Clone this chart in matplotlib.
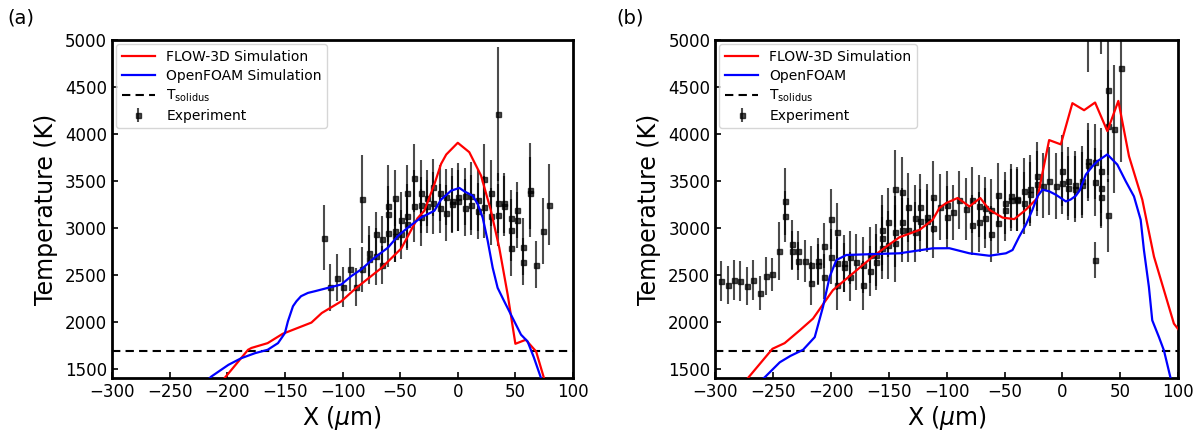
import matplotlib
matplotlib.use("Agg")
import matplotlib.pyplot as plt

plt.rcParams['font.family'] = ['DejaVu Sans']

# ---------------- Panel (a) ----------------
flow_a_x = [-207, -182, -179, -165, -152, -127, -118, -101, -89, -66, -49, -35, -29, -20.2, -14.5, -10, 0, 10, 20.2, 28.8, 36, 43.3, 50, 59, 68, 75.5]
flow_a_t = [1330, 1700, 1720, 1771, 1870, 1990, 2092, 2217, 2350, 2574, 2780, 3100, 3181, 3467, 3680, 3780, 3905, 3805, 3556, 3181, 2788, 2289, 1764, 1807, 1682, 1370]

foam_a_x = [-216, -214, -199, -188, -176, -165, -156, -150, -147.4, -143, -140, -136, -130, -124, -118, -112.6, -101, -92.4, -83.7, -72.2, -60.6, -51.9, -43.3, -31.8, -20.3, -14.5, -5.8, 1.4, 5.7, 13, 17.3, 21.6, 26, 30.3, 34.6, 40.3, 44.7, 54.9, 60.6, 66, 72.5]
foam_a_t = [1390, 1414, 1540, 1610, 1664, 1700, 1771, 1878, 2003, 2164, 2217, 2271, 2306, 2324, 2343, 2360, 2396, 2485, 2557, 2681, 2788, 2913, 3002, 3109, 3181, 3300, 3395, 3424, 3388, 3341, 3253, 3109, 2860, 2574, 2360, 2217, 2110, 1861, 1789, 1620, 1390]

exp_a_x = [-116, -111, -105, -99.4, -93.8, -88.5, -82.9, -82.9, -77.0, -77.0,
           -71.0, -71.0, -66.0, -66.0, -60.5, -60.5, -60.5, -54.8, -54.8, -54.8,
           -49.4, -49.4, -43.8, -43.8, -43.8, -38.2, -38.2, -32.3, -32.3, -32.3,
           -26.8, -26.8, -21.1, -21.1, -15.8, -15.8, -10.4, -10.4, -4.9, -4.9,
           0.6, 0.6, 6.2, 6.2, 11.9, 11.9, 17.5, 17.5, 23.2, 23.2,
           28.8, 28.8, 34.5, 34.5, 34.5, 40.1, 40.1, 45.8, 45.8, 45.8,
           51.5, 51.5, 57.0, 57.0, 62.7, 62.7, 68.3, 74.0, 79.5]
exp_a_t = [2896, 2365, 2470, 2368, 2557, 2370, 3306, 2557, 2734, 2665,
           2931, 2695, 2875, 2603, 3230, 3145, 2940, 3320, 2965, 2910,
           3083, 2930, 3372, 3125, 3040, 3530, 3230, 3370, 3245, 3110,
           3316, 3227, 3430, 3262, 3370, 3209, 3325, 3155, 3290, 3252,
           3325, 3290, 3333, 3215, 3340, 3244, 3298, 3180, 3518, 3216,
           3369, 3120, 4211, 3262, 3138, 3262, 3227, 3102, 2978, 2783,
           3191, 3085, 2800, 2640, 3404, 3369, 2605, 2967, 3244]
exp_a_err = [350, 250, 250, 210, 230, 200, 470, 240, 280, 260,
             240, 300, 250, 200, 440, 300, 360, 300, 330, 280,
             300, 260, 300, 340, 280, 360, 380, 350, 300, 300,
             300, 280, 300, 330, 300, 260, 300, 300, 350, 300,
             360, 320, 300, 300, 360, 320, 330, 300, 370, 330,
             350, 300, 710, 320, 330, 320, 320, 300, 330, 300,
             300, 300, 300, 250, 500, 380, 250, 350, 430]

# ---------------- Panel (b) ----------------
flow_b_x = [-273, -250.5, -240, -227, -215.5, -198.3, -183.9, -163.8, -152.2, -140.8, -123.5, -112.1, -106.3, -100.5, -90.5, -80.4, -71, -63.2, -51.7, -41.6, -31.6, -21.6, -11.5, -1.4, 8.6, 18.7, 28.2, 38.8, 48.3, 57.5, 69, 79.1, 96.3, 100]
flow_b_t = [1380, 1711, 1771, 1907, 2032, 2335, 2485, 2692, 2799, 2899, 2977, 3085, 3210, 3263, 3317, 3227, 3317, 3192, 3108, 3092, 3192, 3317, 3934, 3888, 4327, 4252, 4334, 4030, 4351, 3762, 3299, 2692, 1979, 1920]

foam_b_x = [-259, -257.2, -244.2, -235, -224.1, -214, -206.9, -201.1, -195.3, -186.7, -169.5, -140.8, -112.1, -97.7, -80.4, -63.2, -48.8, -43.1, -37.3, -31.6, -25.9, -21.6, -17.2, -11.5, -5.7, 2.9, 7, 11.6, 15, 20.2, 25.9, 30.2, 38.8, 47.4, 54.7, 61.8, 67.6, 70.4, 74.7, 77.6, 83.4, 87.7, 93.6]
foam_b_t = [1390, 1407, 1567, 1635, 1700, 1835, 2156, 2478, 2656, 2710, 2717, 2728, 2781, 2782, 2728, 2702, 2728, 2763, 2906, 3031, 3192, 3334, 3406, 3388, 3352, 3281, 3300, 3341, 3400, 3566, 3655, 3709, 3781, 3673, 3495, 3334, 3085, 2763, 2370, 2014, 1835, 1693, 1390]

exp_b_x = [-295.0, -289.3, -283.9, -278.4, -272.7, -267.2, -261.5, -255.7, -250.5, -244.8,
           -239.5, -239.5, -233.6, -233.6, -228.4, -228.4, -222.7, -217.0, -217.0, -211.2,
           -211.2, -206.0, -206.0, -200.3, -200.3, -194.8, -194.8, -194.8, -189.0, -189.0,
           -183.9, -183.9, -178.1, -172.4, -172.4, -166.6, -166.6, -160.9, -160.9, -156.0,
           -156.0, -156.0, -150.3, -150.3, -144.5, -144.5, -144.5, -138.8, -138.8, -138.8,
           -133.6, -133.6, -127.8, -127.8, -122.9, -122.9, -117.2, -117.2, -111.5, -111.5,
           -105.7, -100.0, -100.0, -94.8, -89.0, -83.3, -78.1, -78.1, -72.4, -72.4,
           -66.6, -66.6, -61.5, -61.5, -55.7, -55.7, -50.0, -50.0, -44.2, -44.2,
           -39.0, -39.0, -33.3, -33.3, -28.1, -28.1, -22.4, -22.4, -16.6, -11.5,
           -5.7, 0.0, 0.0, 5.2, 5.2, 10.9, 10.9, 16.7, 16.7, 22.4,
           22.4, 22.4, 28.2, 28.2, 28.2, 33.4, 33.4, 33.4, 33.4, 39.1,
           39.1, 39.1, 44.6, 50.3]
exp_b_t = [2431, 2389, 2442, 2431, 2381, 2442, 2306, 2486, 2506, 2750,
           3281, 3120, 2826, 2755, 2756, 2646, 2646, 2608, 2410, 2646,
           2608, 2808, 2478, 3092, 2692, 2959, 2621, 2389, 2621, 2578,
           2685, 2478, 2638, 2603, 2389, 2710, 2539, 2710, 2638, 2977,
           2888, 2781, 3056, 2817, 3413, 2959, 2835, 3377, 3066, 2977,
           3216, 2977, 3102, 2959, 3216, 3077, 3113, 3077, 3327, 2996,
           3220, 3245, 3113, 3163, 3299, 3199, 3299, 3031, 3227, 3066,
           3209, 3102, 3192, 2931, 3352, 3049, 3263, 3184, 3342, 3291,
           3306, 3291, 3388, 3263, 3413, 3363, 3548, 3470, 3449, 3495,
           3441, 3609, 3477, 3495, 3424, 3459, 3413, 3502, 3459, 5400,
           3716, 3666, 3702, 3484, 2656, 5600, 3609, 3424, 3323, 4466,
           4084, 3131, 4055, 4698]
exp_b_err = [215, 205, 215, 210, 200, 215, 180, 200, 175, 310,
             360, 270, 260, 210, 210, 200, 220, 200, 230, 240,
             220, 240, 240, 320, 290, 300, 280, 260, 300, 260,
             280, 260, 300, 300, 260, 300, 270, 330, 300, 370,
             350, 330, 370, 360, 410, 380, 410, 380, 360, 340,
             370, 340, 350, 320, 360, 340, 350, 330, 380, 320,
             350, 360, 330, 290, 310, 330, 350, 320, 330, 320,
             330, 320, 330, 300, 340, 320, 330, 320, 340, 330,
             340, 330, 350, 330, 360, 340, 370, 350, 350, 360,
             350, 380, 330, 370, 340, 360, 350, 370, 350, 745,
             400, 380, 400, 364, 190, 750, 450, 400, 330, 900,
             600, 386, 680, 1000]

T_solidus = 1690
x_ticks = [-300, -250, -200, -150, -100, -50, 0, 50, 100]
y_ticks = [1500, 2000, 2500, 3000, 3500, 4000, 4500, 5000]

fig = plt.figure(figsize=(12.01, 4.30), dpi=100)
ax1 = fig.add_axes([0.0933, 0.121, 0.3838, 0.786])
ax2 = fig.add_axes([0.5955, 0.121, 0.3855, 0.786])

panels = [
    (ax1, flow_a_x, flow_a_t, foam_a_x, foam_a_t, exp_a_x, exp_a_t, exp_a_err, 'OpenFOAM Simulation', '(a)', 0.006),
    (ax2, flow_b_x, flow_b_t, foam_b_x, foam_b_t, exp_b_x, exp_b_t, exp_b_err, 'OpenFOAM', '(b)', 0.513),
]

for ax, fx, ft, ox, ot, ex, et, ee, olabel, tag, tx in panels:
    ax.plot(fx, ft, color='red', lw=1.6, label='FLOW-3D Simulation', zorder=3)
    ax.plot(ox, ot, color='blue', lw=1.6, label=olabel, zorder=3)
    ax.axhline(T_solidus, color='black', ls='--', lw=1.5, label=r'T$_{\mathrm{solidus}}$', dashes=(4, 2.5))
    ax.errorbar(ex, et, yerr=ee, fmt='s', color='black', ms=3.6, elinewidth=1.5,
                capsize=0, alpha=0.7, label='Experiment', zorder=2)
    ax.set_xlim(-300, 100)
    ax.set_ylim(1400, 5000)
    ax.set_xticks(x_ticks)
    ax.set_yticks(y_ticks)
    ax.tick_params(direction='in', labelsize=12, length=4, width=1.2, top=False, right=False)
    for s in ax.spines.values():
        s.set_linewidth(2)
    ax.set_xlabel(r'X ($\mu$m)', fontsize=17, labelpad=2)
    ax.set_ylabel('Temperature (K)', fontsize=17, labelpad=5)
    ax.legend(loc='upper left', fontsize=10, frameon=True, handlelength=2.4,
              borderaxespad=0.3, labelspacing=0.35)
    fig.text(tx, 0.935, tag, fontsize=14, ha='left', va='bottom')

fig.savefig('out.png', dpi=100)
